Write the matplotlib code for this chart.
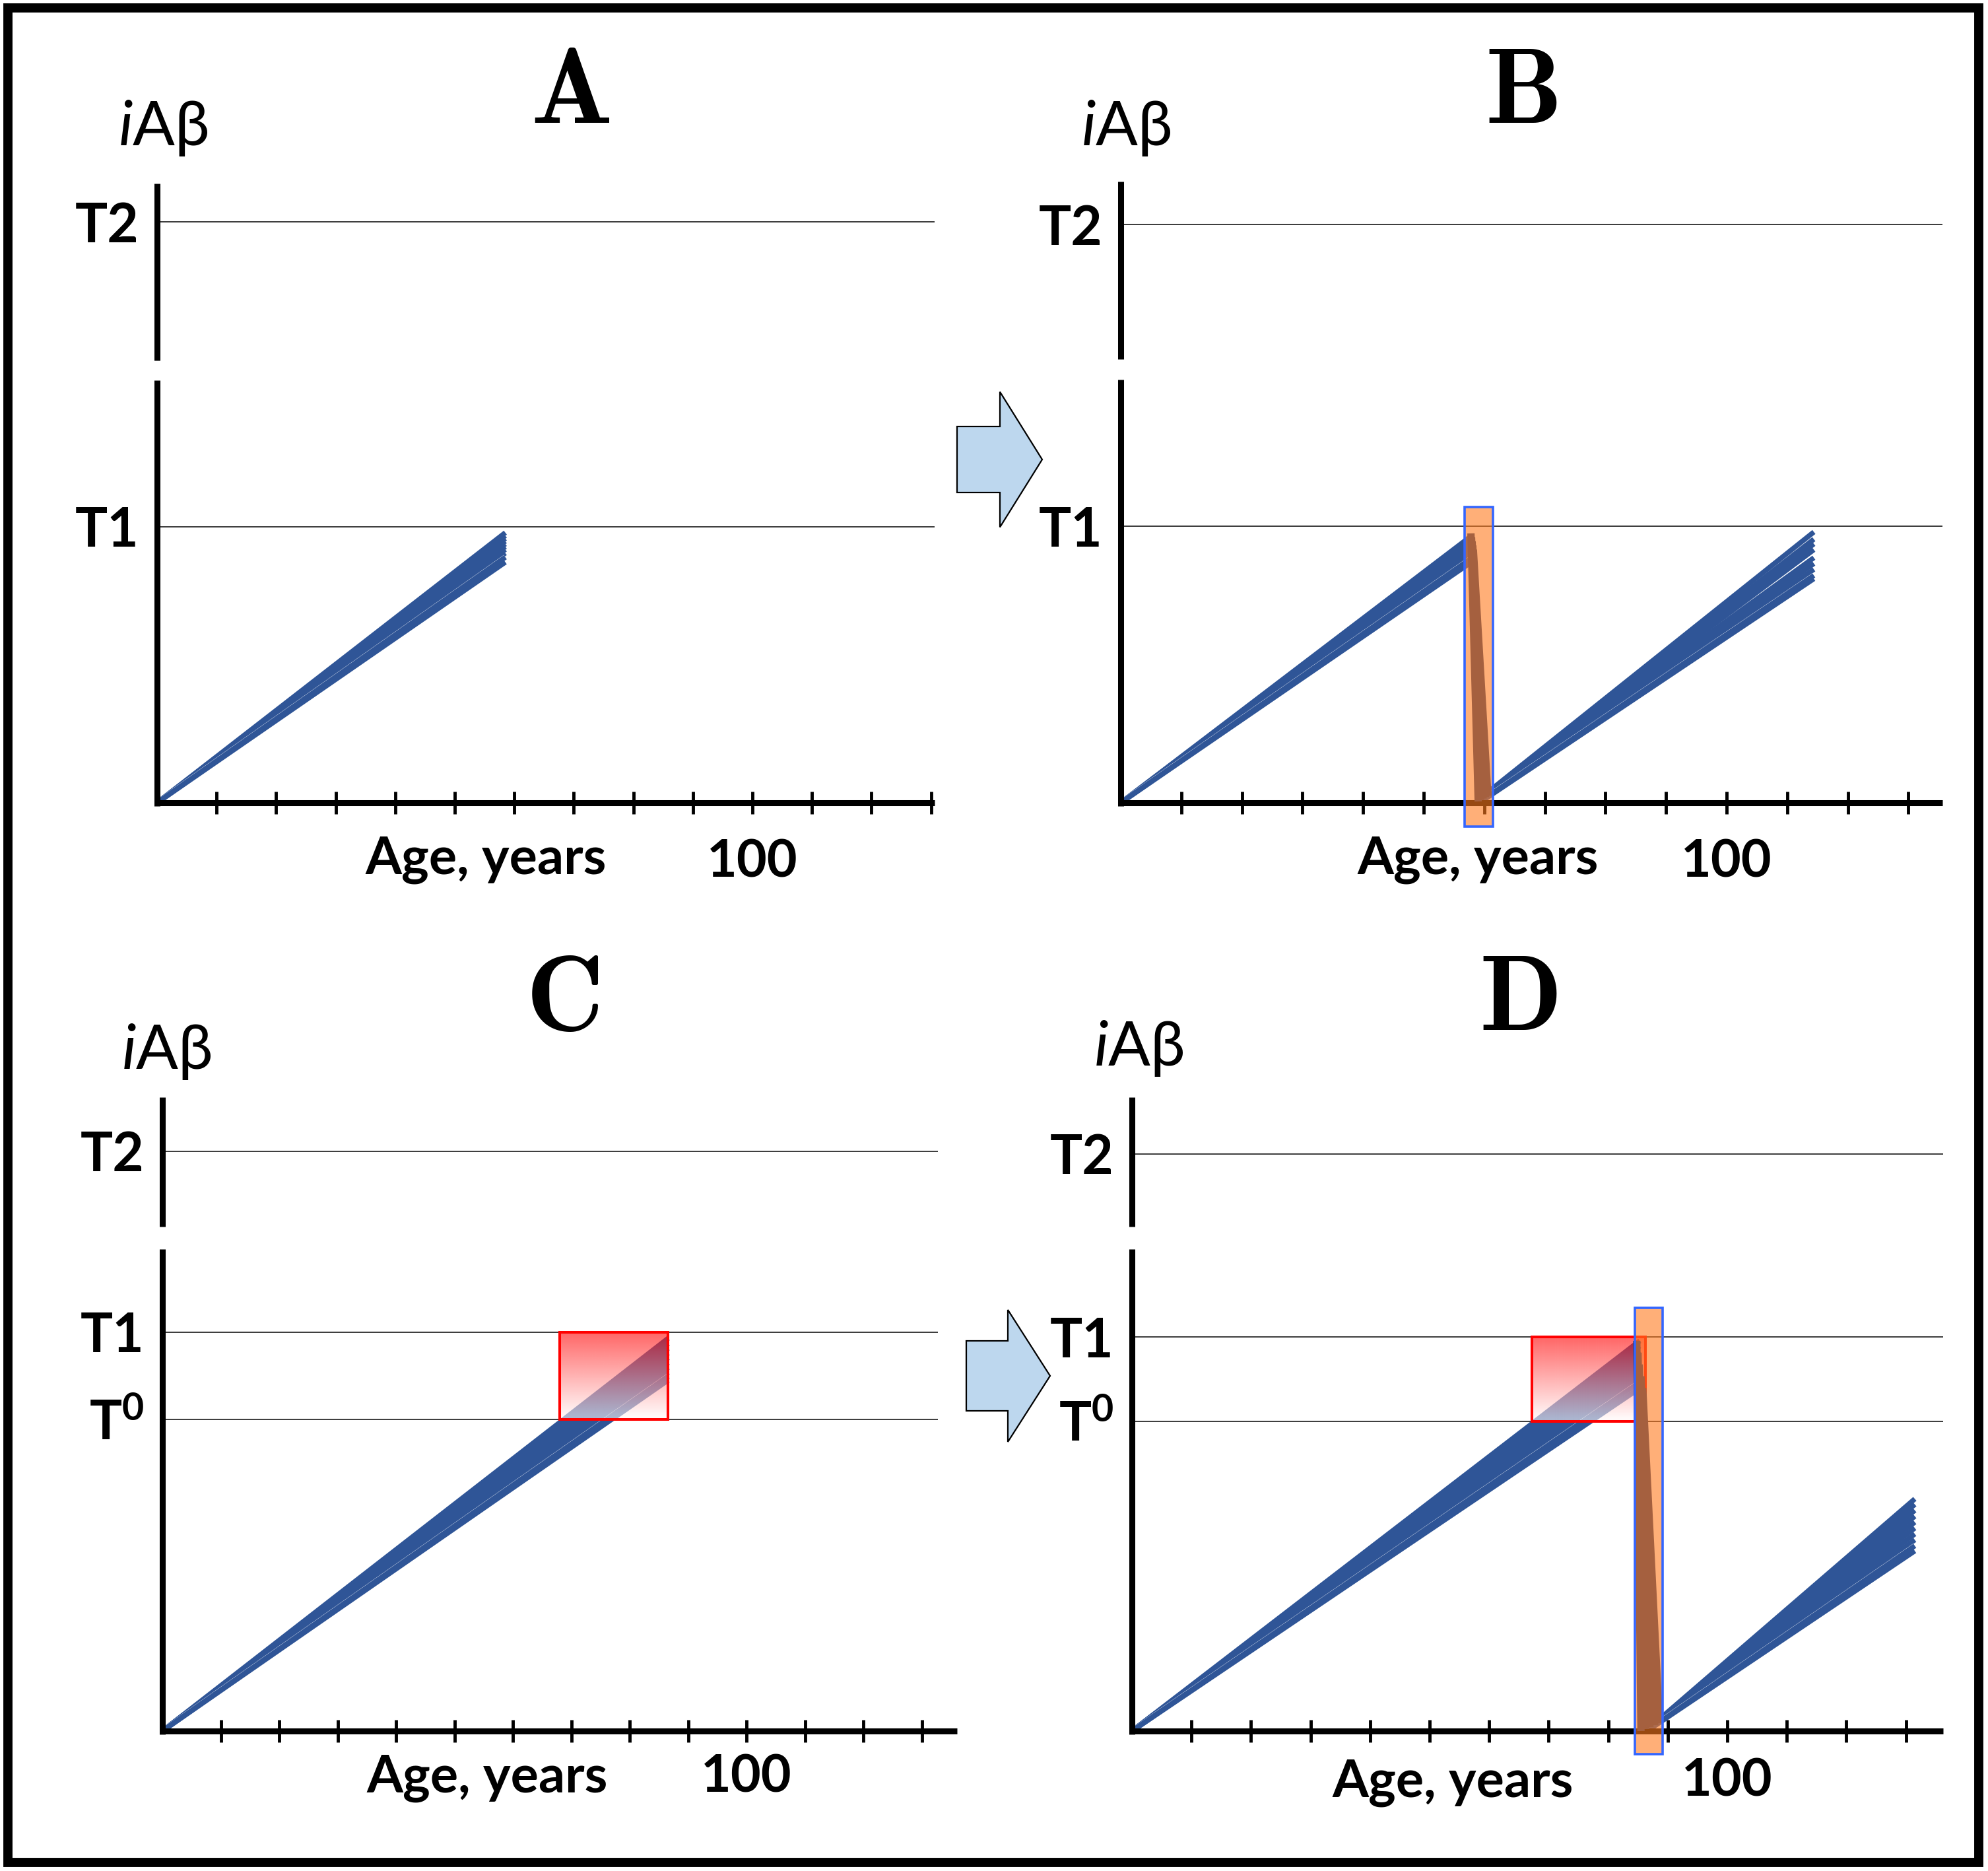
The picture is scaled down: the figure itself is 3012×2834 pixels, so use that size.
import numpy as np
import matplotlib
matplotlib.use("Agg")
import matplotlib.pyplot as plt
import matplotlib.patheffects as pe
from matplotlib.patches import Rectangle, FancyArrow

plt.rcParams['font.family'] = ['Lato', 'DejaVu Sans']
plt.rcParams['mathtext.fontset'] = 'custom'
plt.rcParams['mathtext.rm'] = 'Lato:bold'
plt.rcParams['mathtext.bf'] = 'Lato:bold'
plt.rcParams['mathtext.it'] = 'Lato:italic'

# ---------------- data ----------------
age_ticks = [10, 20, 30, 40, 50, 60, 70, 80, 90, 100, 110, 120, 130]
age_tick_labels = ['', '', '', '', '', '', '', '', '', '100', '', '', '']
x_label = 'Age, years'
y_label = r'$\mathit{i}$Aβ'
panel_letters = ['A', 'B', 'C', 'D']

names_AB = ['T1', 'T2']
names_CD = ['T$^{0}$', 'T1', 'T2']
thresholds_A = [1.0, 2.105]
thresholds_B = [1.0, 2.09]
thresholds_C = [0.781, 1.0, 1.454]
thresholds_D = [0.786, 1.0, 1.464]

# Panel A: single rise
A_rise_end_age = 58.5
A_rise_end_level = [0.979, 0.968, 0.958, 0.948, 0.938, 0.928, 0.918, 0.905, 0.89, 0.872]

# Panel B: rise, drop (treatment), regrowth
B_rise_end_age = 58.0
B_rise_end_level = [0.967, 0.957, 0.947, 0.937, 0.926, 0.914, 0.900, 0.886, 0.872]
B_drop_top_age = [57.8, 57.9, 58.0, 58.1, 58.2]
B_drop_top_level = [0.974, 0.96, 0.945, 0.93, 0.915]
B_drop_bottom_age = [59.0, 59.4, 59.8, 60.2, 60.6]
B_drop_bottom_level = [0.005, 0.01, 0.015, 0.02, 0.025]
B_regrow_start_age = [60.4, 60.3, 60.2, 60.1, 60.0, 59.9, 59.8, 59.7, 59.6]
B_regrow_start_level = [0.035, 0.032, 0.029, 0.026, 0.022, 0.018, 0.014, 0.010, 0.006]
B_regrow_end_age = 114.4
B_regrow_end_level = [0.979, 0.953, 0.936, 0.915, 0.886, 0.865, 0.844, 0.822, 0.810]
B_treatment_age = [56.8, 61.4]
B_treatment_level = [-0.086, 1.069]

# Panel C: rise into the T0-T1 window
C_rise_end_age = 86.6
C_rise_end_level = [0.985, 0.972, 0.96, 0.948, 0.936, 0.924, 0.912, 0.90, 0.89, 0.88]
C_window_age = [68.0, 86.6]

# Panel D: rise, drop in window, slow regrowth
D_rise_end_age = 85.3
D_rise_end_level = [0.99, 0.977, 0.964, 0.951, 0.938, 0.925, 0.912, 0.899, 0.885, 0.87]
D_drop_top_age = [84.8, 85.0, 85.2, 85.5, 85.8]
D_drop_top_level = [0.99, 0.96, 0.93, 0.90, 0.87]
D_drop_bottom_age = [85.5, 86.3, 87.0, 87.8, 88.6]
D_drop_bottom_level = [0.0, 0.005, 0.01, 0.015, 0.02]
D_regrow_start_age = [88.6, 88.4, 88.2, 88.0, 87.8, 87.6, 87.4, 87.2, 87.0, 86.8]
D_regrow_start_level = [0.03, 0.027, 0.024, 0.021, 0.018, 0.015, 0.012, 0.009, 0.006, 0.003]
D_regrow_end_age = 131.5
D_regrow_end_level = [0.589, 0.575, 0.56, 0.545, 0.53, 0.515, 0.50, 0.485, 0.47, 0.457]
D_window_age = [67.2, 86.3]
D_treatment_age = [84.5, 89.1]
D_treatment_level = [-0.059, 1.074]

# ---------------- layout (pixels of the 3012x2834 canvas) ----------------
W, H = 3012, 2834
DPI = 100
BLUE = '#2f5597'
DROP = '#1f3b70'
LINE_LW = 5.5
LABEL_FS = 57

fig = plt.figure(figsize=(W / DPI, H / DPI), dpi=DPI)
fig.patch.set_facecolor('white')


def fx(px):
    return px / W


def fy(py):
    return 1 - py / H


geoms = {
    'A': dict(ox=238, oy=1216, ppy=9.02, ppu=418, xmax=130.6, ymax=2.245,
              lo=1.531, hi=1.603, tend=130.6, pad=27, lab_x=736, lab_base=1324,
              ia_x=247, ia_base=220, let_x=864, let_base=186),
    'B': dict(ox=1698, oy=1216, ppy=9.18, ppu=419, xmax=135.6, ymax=2.245,
              lo=1.531, hi=1.603, tend=135.6, pad=27, lab_x=2239, lab_base=1324,
              ia_x=1706, ia_base=220, let_x=2305, let_base=186),
    'C': dict(ox=246, oy=2622, ppy=8.85, ppu=604, xmax=136.0, ymax=1.589,
              lo=1.209, hi=1.265, tend=132.8, pad=13, lab_x=738, lab_base=2715,
              ia_x=252, ia_base=1619, let_x=851, let_base=1560),
    'D': dict(ox=1715, oy=2622, ppy=9.02, ppu=597, xmax=136.2, ymax=1.608,
              lo=1.223, hi=1.28, tend=136.2, pad=17, lab_x=2201, lab_base=2722,
              ia_x=1725, ia_base=1614, let_x=2300, let_base=1560),
}


def make_axes(key, thresholds, names):
    g = geoms[key]
    wpx = g['xmax'] * g['ppy']
    hpx = g['ymax'] * g['ppu']
    ax = fig.add_axes([fx(g['ox']), fy(g['oy']), wpx / W, hpx / H])
    ax.set_xlim(0, g['xmax'])
    ax.set_ylim(0, g['ymax'])
    ax.patch.set_alpha(0)
    for s in ['top', 'right', 'left']:
        ax.spines[s].set_visible(False)
    ax.spines['bottom'].set_linewidth(6.5)
    ax.spines['bottom'].set_capstyle('butt')
    half = 4.5 / g['ppu']
    ax.vlines([0, 0], [-half, g['hi']], [g['lo'], g['ymax']], color='black',
              lw=6.5, clip_on=False, zorder=2.6)
    ax.hlines(thresholds, 0, g['tend'], color='#3a3a3a', lw=1.4, zorder=1.5,
              clip_on=False)
    ax.set_xticks(age_ticks, age_tick_labels, fontsize=LABEL_FS, fontweight='bold')
    ax.tick_params(axis='x', direction='inout', length=24, width=3.5,
                   pad=g['pad'])
    ax.set_yticks(thresholds, names, fontsize=59, fontweight='bold')
    ax.tick_params(axis='y', length=0, pad=20)
    ax.set_xlabel(x_label, fontsize=LABEL_FS, fontweight='bold')
    ax.xaxis.label.set_va('baseline')
    ax.xaxis.set_label_coords((g['lab_x'] - g['ox']) / wpx,
                              (g['oy'] - g['lab_base']) / hpx)
    fig.text(fx(g['ia_x']), fy(g['ia_base']), y_label, fontsize=68,
             ha='center', va='baseline')
    fig.text(fx(g['let_x']), fy(g['let_base']), r'$\mathbf{%s}$' % key,
             math_fontfamily='cm', fontsize=118, ha='center', va='baseline')
    return ax


halo = [pe.Stroke(linewidth=LINE_LW + 0.4, foreground='white'), pe.Normal()]


def bundle(ax, x0, y0, x1, y1, color=BLUE, z=2):
    n = len(y1)
    x0 = np.broadcast_to(np.asarray(x0, float), (n,))
    y0 = np.broadcast_to(np.asarray(y0, float), (n,))
    x1 = np.broadcast_to(np.asarray(x1, float), (n,))
    for i, (a, b, c, d) in enumerate(zip(x0, y0, x1, y1)):
        ax.plot([a, c], [b, d], color=color, lw=LINE_LW, solid_capstyle='butt',
                path_effects=halo if i == n - 2 else None, zorder=z)


def window(ax, ages, lo, hi):
    t = np.linspace(0, 1, 256)[:, None]
    img = np.zeros((256, 1, 4))
    img[..., 0] = 1.0
    img[..., 1] = 1.0 - t
    img[..., 2] = 1.0 - t
    img[..., 3] = 0.6
    ax.imshow(img, extent=[ages[0], ages[1], lo, hi], origin='lower',
              aspect='auto', zorder=3, interpolation='bilinear')
    ax.add_patch(Rectangle((ages[0], lo), ages[1] - ages[0], hi - lo,
                           fill=False, edgecolor='#ff0000', lw=2.9, zorder=3.2))


def treatment(ax, ages, levels):
    ax.add_patch(Rectangle((ages[0], levels[0]), ages[1] - ages[0],
                           levels[1] - levels[0],
                           facecolor=(1.0, 0.48, 0.12, 0.6),
                           edgecolor='#3366ff', lw=2.6, zorder=4, clip_on=False))


def drops(ax, xa, ya, xb, yb):
    for a, b, c, d in zip(xa, ya, xb, yb):
        ax.plot([a, c], [b, d], color=DROP, lw=8, solid_capstyle='butt', zorder=3.5)


# Panel A
axA = make_axes('A', thresholds_A, names_AB)
bundle(axA, 0, 0, A_rise_end_age, A_rise_end_level)

# Panel B
axB = make_axes('B', thresholds_B, names_AB)
bundle(axB, 0, 0, B_rise_end_age, B_rise_end_level)
bundle(axB, B_regrow_start_age, B_regrow_start_level, B_regrow_end_age,
       B_regrow_end_level)
drops(axB, B_drop_top_age, B_drop_top_level, B_drop_bottom_age, B_drop_bottom_level)
treatment(axB, B_treatment_age, B_treatment_level)

# Panel C
axC = make_axes('C', thresholds_C, names_CD)
bundle(axC, 0, 0, C_rise_end_age, C_rise_end_level)
window(axC, C_window_age, thresholds_C[0], thresholds_C[1])

# Panel D
axD = make_axes('D', thresholds_D, names_CD)
bundle(axD, 0, 0, D_rise_end_age, D_rise_end_level)
bundle(axD, D_regrow_start_age, D_regrow_start_level, D_regrow_end_age,
       D_regrow_end_level)
window(axD, D_window_age, thresholds_D[0], thresholds_D[1])
drops(axD, D_drop_top_age, D_drop_top_level, D_drop_bottom_age, D_drop_bottom_level)
treatment(axD, D_treatment_age, D_treatment_level)

for ax, g in [(axA, geoms['A']), (axB, geoms['B']), (axC, geoms['C']), (axD, geoms['D'])]:
    ax.set_xlim(0, g['xmax'])
    ax.set_ylim(0, g['ymax'])

# block arrows between panels
for tail, tip, yc, shaft, headw in [(1450, 1579, 696, 100, 205),
                                     (1464, 1591, 2084, 106, 200)]:
    fig.add_artist(FancyArrow(fx(tail), fy(yc), (tip - tail) / W, 0,
                              width=shaft / H, head_width=headw / H,
                              head_length=64 / W, length_includes_head=True,
                              transform=fig.transFigure, facecolor='#bdd7ee',
                              edgecolor='black', lw=1.6))

# outer frame
fig.add_artist(Rectangle((fx(12), fy(2821)), (2998 - 12) / W, (2821 - 12) / H,
                         transform=fig.transFigure, fill=False,
                         edgecolor='black', lw=10))

fig.savefig('out.png', dpi=DPI, facecolor='white')
